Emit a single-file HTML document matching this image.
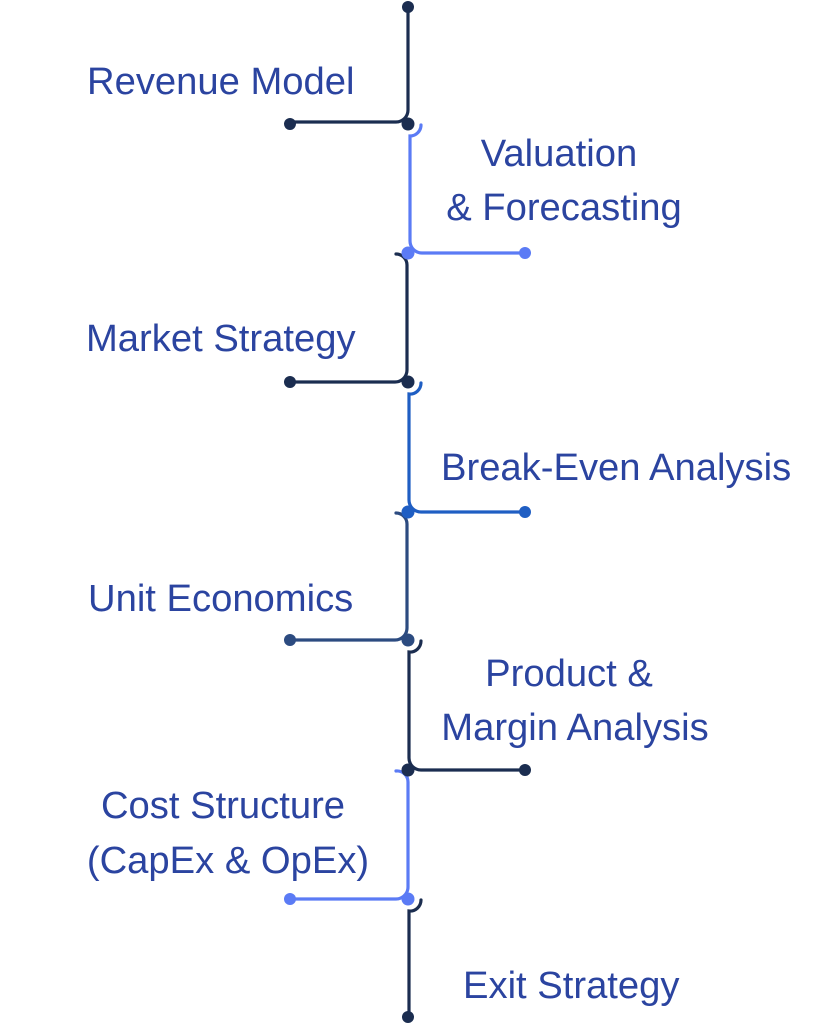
<!DOCTYPE html>
<html><head><meta charset="utf-8"><style>
html,body{margin:0;padding:0;background:#fff;}
svg{display:block;}
text{font-family:"Liberation Sans",Arial,sans-serif;font-size:38.2px;fill:#2b44a0;}
</style></head><body>
<svg width="819" height="1024" viewBox="0 0 819 1024" xmlns="http://www.w3.org/2000/svg">
<g fill="none" stroke-width="3.2" stroke-linecap="round">
<path d="M408 7 V110 A12 12 0 0 1 396 122 H290" stroke="#1b2d50"/>
<path d="M421 125 A11 11 0 0 1 410 136 V241 A12 12 0 0 0 422 253 H525" stroke="#5b7bf5"/>
<path d="M396 254 A11 11 0 0 1 407 265 V370 A12 12 0 0 1 395 382 H290" stroke="#1b2d50"/>
<path d="M421 383 A11 11 0 0 1 409 394 V500 A12 12 0 0 0 421 512 H525" stroke="#1f5ec3"/>
<path d="M396 513 A11 11 0 0 1 407 524 V628 A12 12 0 0 1 395 640 H290" stroke="#2c4b80"/>
<path d="M421 641 A11 11 0 0 1 409 652 V758 A12 12 0 0 0 421 770 H525" stroke="#1b2d50"/>
<path d="M396 771 A11 11 0 0 1 408 782 V887 A12 12 0 0 1 396 899 H290" stroke="#5b7bf5"/>
<path d="M421 900 A11 11 0 0 1 409 911 V1017" stroke="#1b2d50"/>
</g>
<g>
<circle cx="408" cy="7" r="6" fill="#1b2d50"/>
<circle cx="290" cy="124" r="6" fill="#1b2d50"/><circle cx="408" cy="124" r="6.5" fill="#1b2d50"/>
<circle cx="525" cy="253" r="6" fill="#5b7bf5"/><circle cx="408" cy="253" r="6.5" fill="#5b7bf5"/>
<circle cx="290" cy="382" r="6" fill="#1b2d50"/><circle cx="408" cy="382" r="6.5" fill="#1b2d50"/>
<circle cx="525" cy="512" r="6" fill="#1f5ec3"/><circle cx="408" cy="512" r="6.5" fill="#1f5ec3"/>
<circle cx="290" cy="640" r="6" fill="#2c4b80"/><circle cx="408" cy="640" r="6.5" fill="#2c4b80"/>
<circle cx="525" cy="770" r="6" fill="#1b2d50"/><circle cx="408" cy="770" r="6.5" fill="#1b2d50"/>
<circle cx="290" cy="899" r="6" fill="#5b7bf5"/><circle cx="408" cy="899" r="6.5" fill="#5b7bf5"/>
<circle cx="408" cy="1017" r="6" fill="#1b2d50"/>
</g>
<text x="87" y="94">Revenue Model</text>
<text x="559" y="166" text-anchor="middle">Valuation</text>
<text x="564" y="220" text-anchor="middle">&amp; Forecasting</text>
<text x="86" y="351">Market Strategy</text>
<text x="441" y="480">Break-Even Analysis</text>
<text x="88" y="611">Unit Economics</text>
<text x="569" y="686" text-anchor="middle">Product &amp;</text>
<text x="575" y="740" text-anchor="middle">Margin Analysis</text>
<text x="223" y="818" text-anchor="middle">Cost Structure</text>
<text x="228" y="873" text-anchor="middle">(CapEx &amp; OpEx)</text>
<text x="463" y="998">Exit Strategy</text>
</svg>
</body></html>
